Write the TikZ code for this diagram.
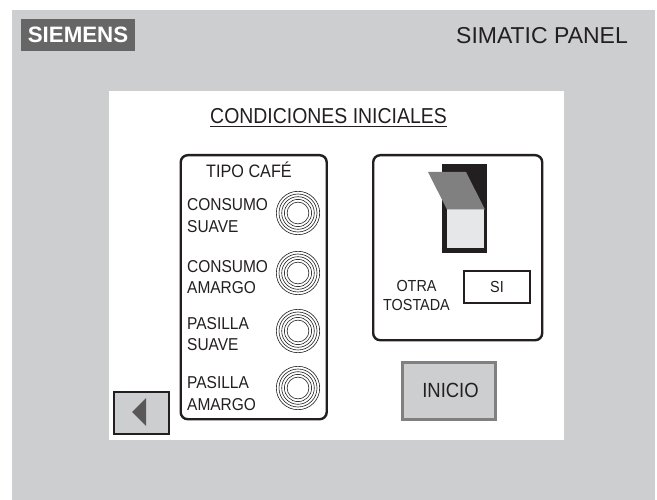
\documentclass[tikz,border=0pt]{standalone}
\usepackage{fontspec}
\setmainfont{Liberation Sans}
\newfontfamily\narrowf[FakeStretch=0.9]{Liberation Sans}
\definecolor{panelgray}{HTML}{CDCED0}
\definecolor{ink}{HTML}{231F20}
\definecolor{midgray}{HTML}{808080}
\definecolor{logogray}{HTML}{666666}
\definecolor{lightface}{HTML}{E6E7E8}
\tikzset{
 x=1pt,y=-1pt,
 lbl/.style={font=\narrowf\fontsize{17.2}{21.5}\selectfont,text=ink,inner sep=0pt,align=left},
 ctr/.style={font=\narrowf\fontsize{17.2}{21}\selectfont,text=ink,inner sep=0pt,align=center},
 frame/.style={draw=ink,line width=2.4pt,rounded corners=7pt,fill=white},
 ring/.style={draw=ink,line width=0.6pt,fill=none},
}
\newcommand{\rings}[1]{%
 \foreach \r in {21.7,19,16.3,13.6,10.9}{\draw[ring] (#1) circle[radius=\r];}}
\begin{document}
\begin{tikzpicture}
\useasboundingbox (0,0) rectangle (657,500);
\fill[panelgray] (12,10) rectangle (655,500);
\fill[white] (109,91) rectangle (564,440);
\node[fill=logogray,minimum width=114pt,minimum height=32pt,inner sep=0pt,text=white,font=\bfseries\fontsize{22.3}{21}\selectfont] (logo) at (78,35) {SIEMENS};
\node[font=\fontsize{23}{23}\selectfont,text=ink,inner sep=0pt] (sim) at (542,35.5) {SIMATIC PANEL};
\node[font=\narrowf\fontsize{21.6}{22}\selectfont,text=ink,inner sep=0pt] (title) at (328.5,116) {CONDICIONES INICIALES};
\draw[ink,line width=1pt] (210,126.5) -- (447,126.5);
\node[frame,minimum width=146pt,minimum height=264pt,anchor=north west] (tipo) at (179.5,154) {};
\node[ctr,font=\narrowf\fontsize{18}{21}\selectfont] (tc) at (249,170) {TIPO CAFÉ};
\node[lbl,anchor=west] (l1) at (187,215.5) {CONSUMO\\SUAVE};
\node[lbl,anchor=west] (l2) at (187,277) {CONSUMO\\AMARGO};
\node[lbl,anchor=west] (l3) at (187,334) {PASILLA\\SUAVE};
\node[lbl,anchor=west] (l4) at (187,393.5) {PASILLA\\AMARGO};
\coordinate (c1) at (298,213);
\coordinate (c2) at (298,273);
\coordinate (c3) at (298,331);
\coordinate (c4) at (298,388);
\rings{c1}\rings{c2}\rings{c3}\rings{c4}
\node[frame,minimum width=169pt,minimum height=185pt,anchor=north west] (right) at (372,154) {};
\fill[ink] (442,164) rectangle (487,253);
\fill[lightface] (447,209) rectangle (484,248);
\fill[midgray] (428,172) -- (466,172) -- (485,209.5) -- (447,209.5) -- cycle;
\node[draw=ink,line width=1.5pt,minimum width=66pt,minimum height=32pt,inner sep=0pt,ctr,font=\narrowf\fontsize{16}{14}\selectfont] (si) at (497,287) {SI};
\node[ctr,font=\narrowf\fontsize{16}{19}\selectfont] (otra) at (416.5,295) {OTRA\\TOSTADA};
\node[draw=midgray,line width=3pt,fill=panelgray,minimum width=93pt,minimum height=57pt,inner sep=0pt] (inicio) at (449,390.5) {};
\node[ctr,font=\narrowf\fontsize{20.5}{16}\selectfont] (iniciot) at (450.5,390.5) {INICIO};
\node[draw=ink,line width=2pt,fill=panelgray,minimum width=55pt,minimum height=42pt,inner sep=0pt] (back) at (141,412.5) {};
\fill[ink!75] (132,412) -- (146,398) -- (146,426) -- cycle;
\end{tikzpicture}
\end{document}
